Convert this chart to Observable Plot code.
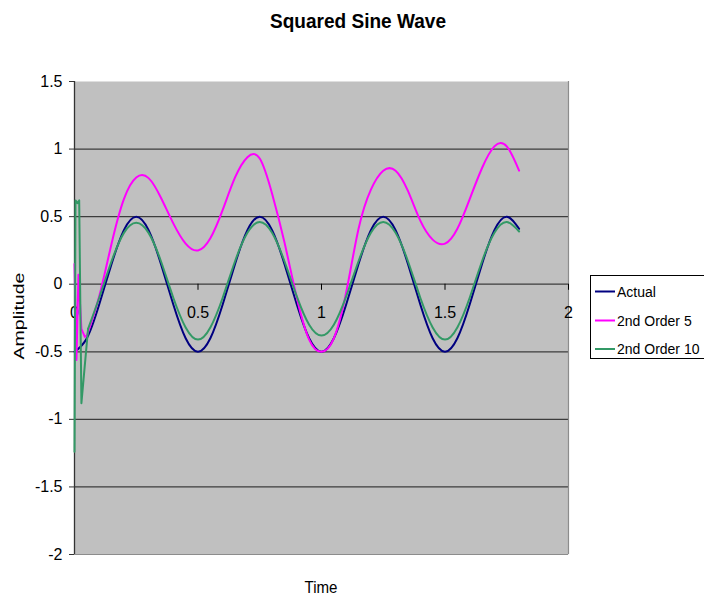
<!DOCTYPE html>
<html>
<head>
<meta charset="utf-8">
<script src="https://cdn.jsdelivr.net/npm/d3@7"></script>
<script src="https://cdn.jsdelivr.net/npm/@observablehq/plot@0.6"></script>
<style>
  html, body { margin: 0; padding: 0; background: #fff; overflow: hidden; }
  #chart { position: relative; width: 704px; height: 598px; }
</style>
</head>
<body>
<div id="chart"></div>
<script>
// ---- Data ----
const title = "Squared Sine Wave";
const xTitle = "Time";
const yTitle = "Amplitude";
const seriesNames = ["Actual", "2nd Order 5", "2nd Order 10"];
const seriesColors = ["#000080", "#FF00FF", "#339966"];

const xTicks = [0, 0.5, 1, 1.5, 2];
const xTickLabels = ["0", "0.5", "1", "1.5", "2"];
const yTicks = [-2, -1.5, -1, -0.5, 0, 0.5, 1, 1.5];
const yTickLabels = ["-2", "-1.5", "-1", "-0.5", "0", "0.5", "1", "1.5"];
const gridValues = [-1.5, -1, -0.5, 0, 0.5, 1];

const actualT = [0, 0.05, 0.1, 0.15, 0.2, 0.25, 0.3, 0.35, 0.4, 0.45,
  0.5, 0.55, 0.6, 0.65, 0.7, 0.75, 0.8, 0.85, 0.9, 0.95,
  1, 1.05, 1.1, 1.15, 1.2, 1.25, 1.3, 1.35, 1.4, 1.45,
  1.5, 1.55, 1.6, 1.65, 1.7, 1.75, 1.8];
const actualV = [-0.5, -0.4, -0.15, 0.15, 0.4, 0.5, 0.4, 0.15, -0.15, -0.4,
  -0.5, -0.4, -0.15, 0.15, 0.4, 0.5, 0.4, 0.15, -0.15, -0.4,
  -0.5, -0.4, -0.15, 0.15, 0.4, 0.5, 0.4, 0.15, -0.15, -0.4,
  -0.5, -0.4, -0.15, 0.15, 0.4, 0.5, 0.41];

// 2nd Order 5: start-up transient, then smooth response
const order5T = [0, 0.008, 0.016, 0.028, 0.042, 0.05,
  0.1, 0.15, 0.2, 0.25, 0.3, 0.35, 0.4, 0.45,
  0.5, 0.55, 0.6, 0.65, 0.7, 0.75, 0.8, 0.85, 0.9, 0.95,
  1, 1.05, 1.1, 1.15, 1.2, 1.25, 1.3, 1.35, 1.4, 1.45,
  1.5, 1.55, 1.6, 1.65, 1.7, 1.75, 1.8];
const order5V = [0.15, -0.56, 0.07, -0.33, -0.39, -0.38,
  -0.09, 0.3, 0.63, 0.79, 0.785, 0.64, 0.45, 0.3,
  0.25, 0.34, 0.55, 0.79, 0.94, 0.93, 0.67, 0.31, -0.1, -0.41,
  -0.5, -0.4, -0.06, 0.41, 0.7, 0.84, 0.84, 0.69, 0.47, 0.33,
  0.3, 0.41, 0.63, 0.86, 1.02, 1.02, 0.84];
const order5SettleT = 0.05;

// 2nd Order 10: start-up transient, then smooth response
const order10T = [0, 0.004, 0.012, 0.019, 0.028, 0.055, 0.1, 0.15, 0.2, 0.25,
  0.3, 0.35, 0.4, 0.45, 0.5, 0.55, 0.6, 0.65, 0.7, 0.75,
  0.8, 0.85, 0.9, 0.95, 1, 1.05, 1.1, 1.15, 1.2, 1.25,
  1.3, 1.35, 1.4, 1.45, 1.5, 1.55, 1.6, 1.65, 1.7, 1.75, 1.8];
const order10V = [-1.24, 0.62, 0.6, 0.62, -0.88, -0.33, -0.1, 0.17, 0.38, 0.455,
  0.38, 0.17, -0.1, -0.32, -0.41, -0.32, -0.1, 0.17, 0.38, 0.46,
  0.38, 0.17, -0.09, -0.3, -0.38, -0.3, -0.09, 0.17, 0.38, 0.46,
  0.38, 0.17, -0.1, -0.32, -0.41, -0.32, -0.1, 0.17, 0.38, 0.46, 0.39];
const order10SettleT = 0.055;

// ---- Build tables ----
const zip = (ts, vs) => ts.map((t, i) => ({t, v: vs[i]}));
const actual = zip(actualT, actualV);
const order5 = zip(order5T, order5V);
const order10 = zip(order10T, order10V);
const head = (rows, s) => rows.filter(d => d.t <= s);
const tail = (rows, s) => rows.filter(d => d.t >= s);

const FONT = "'Liberation Sans', Arial, Helvetica, sans-serif";
const lineOpts = (i, curve) => ({x: "t", y: "v", stroke: seriesColors[i], strokeWidth: 2, curve});

const chart = Plot.plot({
  width: 704,
  height: 598,
  marginLeft: 74,
  marginRight: 136,
  marginTop: 81,
  marginBottom: 44,
  x: {domain: [0, 2], axis: null},
  y: {domain: [-2, 1.5]},
  style: {fontFamily: FONT, fontSize: "16px", background: "#fff", color: "#000", overflow: "visible"},
  marks: [
    Plot.frame({fill: "#C0C0C0", stroke: null}),
    Plot.ruleY(gridValues, {stroke: "#3c3c3c", strokeWidth: 1.3}),
    Plot.ruleY([-2], {stroke: "#8c8c8c", strokeWidth: 1.2}),
    Plot.ruleX([2], {stroke: "#8c8c8c", strokeWidth: 1.2}),
    Plot.ruleX([0], {stroke: "#333", strokeWidth: 1.3}),
    Plot.axisY({
      ticks: yTicks, tickSize: 5, tickPadding: 7, label: null,
      tickFormat: d => yTickLabels[yTicks.indexOf(d)],
      stroke: "#333", fontSize: 16
    }),
    // x axis drawn along y = 0, Excel-style
    Plot.ruleX(xTicks, {y1: 0, y2: -0.045, stroke: "#000", strokeWidth: 1}),
    Plot.text(xTicks, {
      x: d => d, y: 0, dy: 29,
      text: d => xTickLabels[xTicks.indexOf(d)],
      fontSize: 16, fill: "#000", textAnchor: "middle"
    }),
    Plot.line(actual, lineOpts(0, "natural")),
    Plot.line(head(order5, order5SettleT), lineOpts(1, "linear")),
    Plot.line(tail(order5, order5SettleT), lineOpts(1, "natural")),
    Plot.line(head(order10, order10SettleT), lineOpts(2, "linear")),
    Plot.line(tail(order10, order10SettleT), lineOpts(2, "natural"))
  ]
});

document.getElementById("chart").appendChild(chart);

// ---- Titles and legend ----
const svg = d3.select(chart);

svg.append("text")
  .attr("x", 358).attr("y", 28)
  .attr("text-anchor", "middle")
  .attr("font-family", FONT).attr("font-weight", "bold").attr("font-size", 21)
  .attr("textLength", 176).attr("lengthAdjust", "spacingAndGlyphs")
  .attr("fill", "#000")
  .text(title);

svg.append("text")
  .attr("x", 321).attr("y", 593)
  .attr("text-anchor", "middle")
  .attr("font-family", FONT).attr("font-size", 17)
  .attr("textLength", 33).attr("lengthAdjust", "spacingAndGlyphs")
  .attr("fill", "#000")
  .text(xTitle);

svg.append("text")
  .attr("transform", "translate(24,316) rotate(-90)")
  .attr("text-anchor", "middle")
  .attr("font-family", FONT).attr("font-size", 14)
  .attr("textLength", 87).attr("lengthAdjust", "spacingAndGlyphs")
  .attr("fill", "#000")
  .text(yTitle);

const legend = svg.append("g")
  .attr("font-family", FONT).attr("font-size", 14)
  .attr("text-anchor", "start");
legend.append("rect")
  .attr("x", 590.5).attr("y", 275.5).attr("width", 140).attr("height", 83)
  .attr("fill", "#fff").attr("stroke", "#000").attr("stroke-width", 1);
const rowY = [291.5, 320.5, 349];
seriesNames.forEach((name, i) => {
  legend.append("line")
    .attr("x1", 595).attr("x2", 615).attr("y1", rowY[i]).attr("y2", rowY[i])
    .attr("stroke", seriesColors[i]).attr("stroke-width", 2);
  legend.append("text")
    .attr("x", 617).attr("y", rowY[i] + 5)
    .attr("text-anchor", "start")
    .attr("fill", "#000")
    .text(name);
});
</script>
</body>
</html>
